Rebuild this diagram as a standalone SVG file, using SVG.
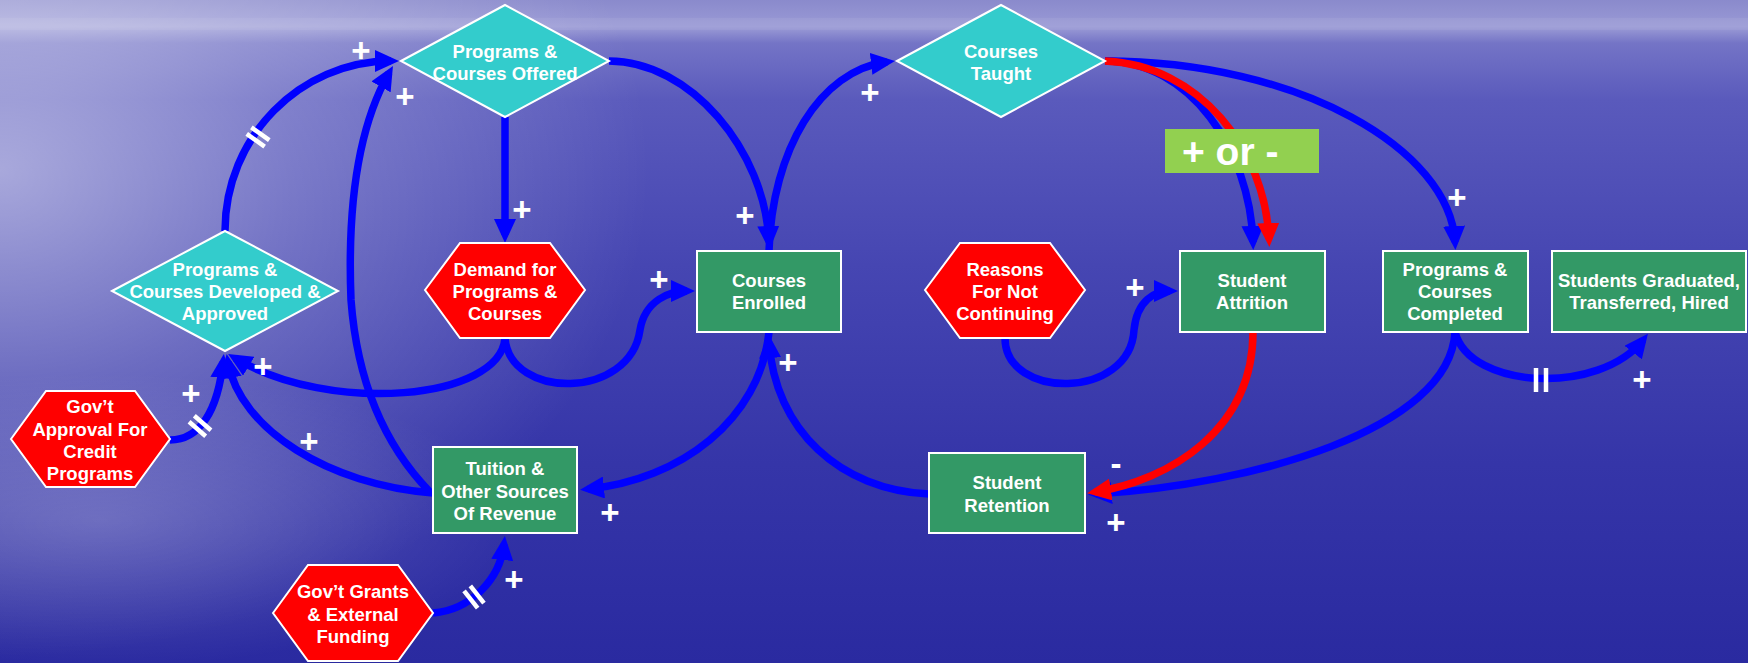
<svg xmlns="http://www.w3.org/2000/svg" width="1748" height="663" viewBox="0 0 1748 663">
<defs>
<linearGradient id="bg" x1="0" y1="0" x2="0" y2="1">
<stop offset="0" stop-color="#8a8acc"/>
<stop offset="0.025" stop-color="#9494d2"/>
<stop offset="0.04" stop-color="#9c9cd6"/>
<stop offset="0.065" stop-color="#7474c6"/>
<stop offset="0.15" stop-color="#5a5abc"/>
<stop offset="0.4" stop-color="#4646b2"/>
<stop offset="0.7" stop-color="#3535a8"/>
<stop offset="1" stop-color="#2a2aa0"/>
</linearGradient>
<radialGradient id="glow" gradientUnits="userSpaceOnUse" cx="0" cy="170" r="650" gradientTransform="translate(0,170) scale(1,0.75) translate(0,-170)">
<stop offset="0" stop-color="#ffffff" stop-opacity="0.5"/>
<stop offset="0.45" stop-color="#ffffff" stop-opacity="0.24"/>
<stop offset="1" stop-color="#ffffff" stop-opacity="0"/>
</radialGradient>
<radialGradient id="glow2" gradientUnits="userSpaceOnUse" cx="100" cy="520" r="420" gradientTransform="translate(100,520) scale(1,0.35) translate(-100,-520)">
<stop offset="0" stop-color="#ffffff" stop-opacity="0.2"/>
<stop offset="1" stop-color="#ffffff" stop-opacity="0"/>
</radialGradient>
<marker id="ab" markerUnits="userSpaceOnUse" markerWidth="24" markerHeight="22" viewBox="0 0 24 22" refX="16" refY="11" orient="auto"><path d="M0,0 L24,11 L0,22 z" fill="#0000ff"/></marker>
<marker id="ar" markerUnits="userSpaceOnUse" markerWidth="24" markerHeight="22" viewBox="0 0 24 22" refX="16" refY="11" orient="auto"><path d="M0,0 L24,11 L0,22 z" fill="#ff0000"/></marker>
<style>
.conn{fill:none;stroke:#0000ff;stroke-width:7.5;marker-end:url(#ab)}
.red{stroke:#ff0000;marker-end:url(#ar)}
.t{font-family:"Liberation Sans",Arial,sans-serif;font-weight:bold;fill:#ffffff;text-anchor:middle;font-size:18.5px}
.s{font-family:"Liberation Sans",Arial,sans-serif;font-weight:bold;fill:#ffffff;text-anchor:middle;font-size:33px}
.dia{fill:#33cccc;stroke:#ffffff;stroke-width:2}
.box{fill:#339966;stroke:#ffffff;stroke-width:2}
.hex{fill:#ff0000;stroke:#ffffff;stroke-width:2}
.delay line{stroke:#ffffff;stroke-width:4.5}
</style>
</defs>
<rect width="1748" height="663" fill="url(#bg)"/>
<rect width="1748" height="663" fill="url(#glow)"/>
<rect width="1748" height="663" fill="url(#glow2)"/>
<rect x="0" y="18" width="1748" height="12" fill="#ffffff" opacity="0.06"/>

<g id="connectors">
<path class="conn" d="M225,231 C225,137 300,61 391,61"/>
<path class="conn" d="M430,492 Q360,420 351,300 Q345,150 389,73"/>
<path class="conn" d="M505,117 L505,235"/>
<path class="conn" d="M609,61 C690,61 765,150 769,242"/>
<path class="conn" d="M769,251 C772,150 820,70 887,62"/>
<path class="conn" d="M505,338 C500,400 330,415 235,358"/>
<path class="conn" d="M505,338 C510,400 630,400 640,330 C645,300 670,291 687,291"/>
<path class="conn" d="M170,440 C200,440 218,410 223,362"/>
<path class="conn" d="M433,493 C330,485 240,430 228,362"/>
<path class="conn" d="M433,613 C470,610 500,580 504,544"/>
<path class="conn" d="M769,332 C760,420 680,480 588,489"/>
<path class="conn" d="M929,494 C840,490 775,430 769,342"/>
<path class="conn" d="M1005,338 C1005,400 1130,400 1134,330 C1137,300 1155,291 1170,291"/>
<path class="conn" d="M1105,61 C1300,61 1450,150 1455,242"/>
<path class="conn" d="M1105,61 C1190,61 1250,150 1253,242"/>
<path class="conn red" d="M1105,61 C1200,65 1265,150 1269,239"/>
<path class="conn" d="M1455,332 C1450,430 1250,485 1096,494"/>
<path class="conn red" d="M1253,332 C1253,430 1170,480 1095,492"/>
<path class="conn" d="M1455,332 C1470,390 1600,395 1643,340"/>
<g class="delay" transform="translate(258,137) rotate(35.6)"><line x1="-11" y1="-4" x2="11" y2="-4"/><line x1="-11" y1="4" x2="11" y2="4"/></g>
<g class="delay" transform="translate(200,426) rotate(41)"><line x1="-11" y1="-4" x2="11" y2="-4"/><line x1="-11" y1="4" x2="11" y2="4"/></g>
<g class="delay" transform="translate(474,597) rotate(51.7)"><line x1="-11" y1="-4" x2="11" y2="-4"/><line x1="-11" y1="4" x2="11" y2="4"/></g>
<g class="delay" transform="translate(1541,380) rotate(90)"><line x1="-12" y1="-5" x2="12" y2="-5"/><line x1="-12" y1="5" x2="12" y2="5"/></g>
<text class="s" x="361" y="62">+</text>
<text class="s" x="405" y="108">+</text>
<text class="s" x="522" y="221">+</text>
<text class="s" x="745" y="227">+</text>
<text class="s" x="870" y="104">+</text>
<text class="s" x="659" y="291">+</text>
<text class="s" x="1135" y="299">+</text>
<text class="s" x="1457" y="209">+</text>
<text class="s" x="191" y="405">+</text>
<text class="s" x="263" y="378">+</text>
<text class="s" x="309" y="453">+</text>
<text class="s" x="514" y="591">+</text>
<text class="s" x="610" y="524">+</text>
<text class="s" x="788" y="374">+</text>
<text class="s" x="1116" y="534">+</text>
<text class="s" x="1642" y="391">+</text>
<text class="s" x="1116" y="475">-</text>
</g>

<g id="n-offered"><polygon class="dia" points="401,61 505,5 609,61 505,117"/><text class="t" x="505" y="58">Programs &amp;</text><text class="t" x="505" y="80">Courses Offered</text></g>
<g id="n-taught"><polygon class="dia" points="897,61 1001,5 1105,61 1001,117"/><text class="t" x="1001" y="58">Courses</text><text class="t" x="1001" y="80">Taught</text></g>
<g id="n-developed"><polygon class="dia" points="112,291 225,231 338,291 225,351"/><text class="t" x="225" y="276">Programs &amp;</text><text class="t" x="225" y="298">Courses Developed &amp;</text><text class="t" x="225" y="320">Approved</text></g>
<g id="n-demand"><polygon class="hex" points="425,290 460,243 550,243 585,290 550,338 460,338"/><text class="t" x="505" y="276">Demand for</text><text class="t" x="505" y="298">Programs &amp;</text><text class="t" x="505" y="320">Courses</text></g>
<g id="n-reasons"><polygon class="hex" points="925,290 960,243 1050,243 1085,290 1050,338 960,338"/><text class="t" x="1005" y="276">Reasons</text><text class="t" x="1005" y="298">For Not</text><text class="t" x="1005" y="320">Continuing</text></g>
<g id="n-approval"><polygon class="hex" points="11,439 46,391 135,391 170,439 135,487 46,487"/><text class="t" x="90" y="413">Gov’t</text><text class="t" x="90" y="436">Approval For</text><text class="t" x="90" y="458">Credit</text><text class="t" x="90" y="480">Programs</text></g>
<g id="n-grants"><polygon class="hex" points="273,613 308,565 398,565 433,613 398,661 308,661"/><text class="t" x="353" y="598">Gov’t Grants</text><text class="t" x="353" y="621">&amp; External</text><text class="t" x="353" y="643">Funding</text></g>
<g id="n-enrolled"><rect class="box" x="697" y="251" width="144" height="81"/><text class="t" x="769" y="287">Courses</text><text class="t" x="769" y="309">Enrolled</text></g>
<g id="n-attrition"><rect class="box" x="1180" y="251" width="145" height="81"/><text class="t" x="1252" y="287">Student</text><text class="t" x="1252" y="309">Attrition</text></g>
<g id="n-completed"><rect class="box" x="1383" y="251" width="145" height="81"/><text class="t" x="1455" y="276">Programs &amp;</text><text class="t" x="1455" y="298">Courses</text><text class="t" x="1455" y="320">Completed</text></g>
<g id="n-graduated"><rect class="box" x="1552" y="251" width="194" height="81"/><text class="t" x="1649" y="287">Students Graduated,</text><text class="t" x="1649" y="309">Transferred, Hired</text></g>
<g id="n-tuition"><rect class="box" x="433" y="447" width="144" height="86"/><text class="t" x="505" y="475">Tuition &amp;</text><text class="t" x="505" y="498">Other Sources</text><text class="t" x="505" y="520">Of Revenue</text></g>
<g id="n-retention"><rect class="box" x="929" y="453" width="156" height="80"/><text class="t" x="1007" y="489">Student</text><text class="t" x="1007" y="512">Retention</text></g>
<g id="n-plusminus"><rect x="1165" y="129" width="154" height="44" fill="#92d050"/><text x="1182" y="165" font-family="Liberation Sans, Arial, sans-serif" font-weight="bold" font-size="39" fill="#ffffff">+ or -</text></g>
</svg>
